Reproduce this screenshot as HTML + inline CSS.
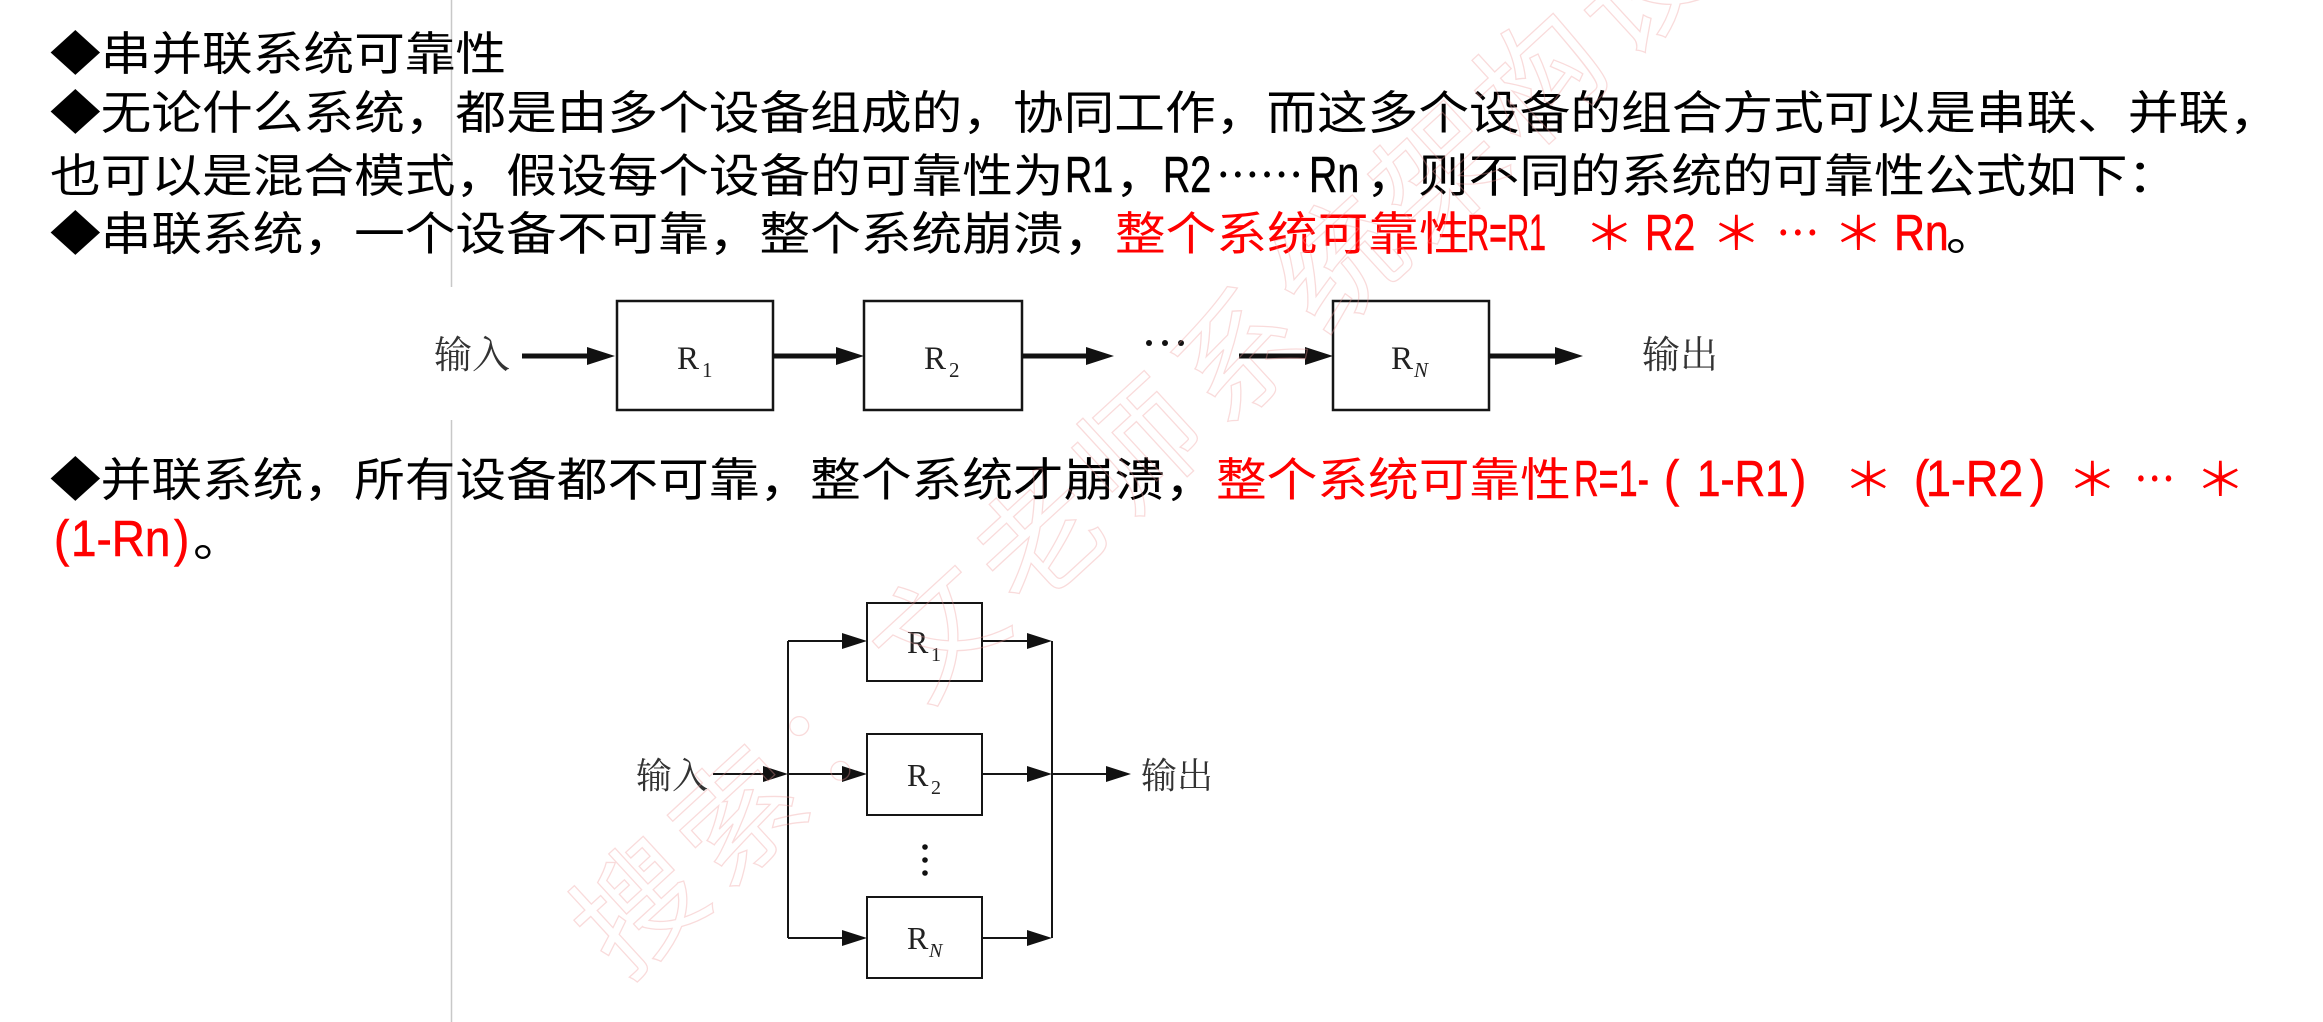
<!DOCTYPE html>
<html lang="zh-CN">
<head>
<meta charset="utf-8">
<style>
html,body{margin:0;padding:0;background:#fff;}
body{width:2323px;height:1022px;overflow:hidden;position:relative;}
svg{position:absolute;left:0;top:0;display:block;}
.c{font-family:"Liberation Sans","Noto Sans CJK SC",sans-serif;font-size:46px;fill:#000;}
.l{font-family:"Liberation Sans","Noto Sans CJK SC",sans-serif;font-size:51px;fill:#f00;stroke:#f00;stroke-width:0.6;}
.lb{fill:#000;stroke:#000;}
.red{fill:#f00;}
.dg{font-family:"Liberation Serif","Noto Serif CJK SC",serif;fill:#333;}
.rl{font-family:"Liberation Serif",serif;fill:#222;}
.wm{font-family:"Liberation Sans","Noto Sans CJK SC",sans-serif;}
</style>
</head>
<body>
<svg width="2323" height="1022" viewBox="0 0 2323 1022" xmlns="http://www.w3.org/2000/svg" overflow="hidden">
<defs>
  <clipPath id="pg"><rect x="0" y="0" width="2323" height="1022"/></clipPath>
</defs>
<rect x="0" y="0" width="2323" height="1022" fill="#fff"/>

<g clip-path="url(#pg)">
<!-- faint vertical guide line -->
<line x1="451.5" y1="0" x2="451.5" y2="287" stroke="#c8c8c8" stroke-width="1.5"/>
<line x1="451.5" y1="420" x2="451.5" y2="1022" stroke="#c8c8c8" stroke-width="1.5"/>

<!-- ===== Text lines ===== -->
<!-- L1 -->
<text class="c" transform="translate(50,70) scale(1.102,1)">◆串并联系统可靠性</text>
<!-- L2 -->
<text class="c" transform="translate(50,129) scale(1.102,1)">◆无论什么系统，都是由多个设备组成的，协同工作，而这多个设备的组合方式可以是串联、并联，</text>
<!-- L3 -->
<text class="c" transform="translate(50,192) scale(1.102,1)">也可以是混合模式，假设每个设备的可靠性为</text>
<text class="l lb" transform="translate(1065,192) scale(0.74,1)">R1</text>
<text class="c" transform="translate(1115,192) scale(1.102,1)">，</text>
<text class="l lb" transform="translate(1163,192) scale(0.74,1)">R2</text>
<text class="c" transform="translate(1216,192) scale(0.95,1)">⋯⋯</text>
<text class="l lb" transform="translate(1309,192) scale(0.77,1)">Rn</text>
<text class="c" transform="translate(1366,192) scale(1.102,1)">，</text>
<text class="c" transform="translate(1418,192) scale(1.102,1)">则不同的系统的可靠性公式如下：</text>
<!-- L4 -->
<text class="c" transform="translate(50,250) scale(1.102,1)">◆串联系统，一个设备不可靠，整个系统崩溃，</text>
<text class="c red" transform="translate(1115,250) scale(1.102,1)">整个系统可靠性</text>
<text class="l" transform="translate(1467,250) scale(0.6,1)">R=R1</text>
<text class="c red" transform="translate(1584,250) scale(1.102,1)">＊</text>
<text class="l" transform="translate(1645,250) scale(0.77,1)">R2</text>
<text class="c red" transform="translate(1711,250) scale(1.102,1)">＊</text>
<text class="c red" transform="translate(1776,250) scale(0.95,1)">⋯</text>
<text class="c red" transform="translate(1833,250) scale(1.102,1)">＊</text>
<text class="l" transform="translate(1894,250) scale(0.84,1)">Rn</text>
<text class="c" transform="translate(1946,250) scale(1.102,1)">。</text>

<!-- L5 -->
<text class="c" transform="translate(50,496) scale(1.102,1)">◆并联系统，所有设备都不可靠，整个系统才崩溃，</text>
<text class="c red" transform="translate(1216,496) scale(1.102,1)">整个系统可靠性</text>
<text class="l" transform="translate(1574,496) scale(0.67,1)">R=1-</text>
<text class="l" transform="translate(1664,496) scale(0.9,1)">(</text>
<text class="l" transform="translate(1697,496) scale(0.83,1)">1-R1</text>
<text class="l" transform="translate(1791,496) scale(0.9,1)">)</text>
<text class="c red" transform="translate(1843,496) scale(1.102,1)">＊</text>
<text class="l" transform="translate(1914,496) scale(0.9,1)">(</text>
<text class="l" transform="translate(1926,496) scale(0.88,1)">1-R2</text>
<text class="l" transform="translate(2030,496) scale(0.9,1)">)</text>
<text class="c red" transform="translate(2067,496) scale(1.102,1)">＊</text>
<text class="c red" transform="translate(2134,496) scale(0.9,1)">⋯</text>
<text class="c red" transform="translate(2195,496) scale(1.102,1)">＊</text>
<!-- L6 -->
<text class="l" transform="translate(54,556) scale(0.9,1)">(</text>
<text class="l" transform="translate(71,556) scale(0.9,1)">1-Rn</text>
<text class="l" transform="translate(174,556) scale(0.9,1)">)</text>
<text class="c" transform="translate(193,556) scale(1.102,1)">。</text>

<!-- ===== Series diagram ===== -->
<g stroke="#151515" fill="none" stroke-width="2.5">
  <rect x="617" y="301" width="156" height="109"/>
  <rect x="864" y="301" width="158" height="109"/>
  <rect x="1333" y="301" width="156" height="109"/>
</g>
<g stroke="#111" stroke-width="5">
  <line x1="522" y1="356" x2="590" y2="356"/>
  <line x1="773" y1="356" x2="840" y2="356"/>
  <line x1="1022" y1="356" x2="1090" y2="356"/>
  <line x1="1239" y1="356" x2="1310" y2="356"/>
  <line x1="1489" y1="356" x2="1560" y2="356"/>
</g>
<g fill="#111">
  <polygon points="587,347 615,356 587,365"/>
  <polygon points="836,347 864,356 836,365"/>
  <polygon points="1086,347 1114,356 1086,365"/>
  <polygon points="1305,347 1333,356 1305,365"/>
  <polygon points="1555,347 1583,356 1555,365"/>
  <circle cx="1149" cy="343" r="3"/>
  <circle cx="1165" cy="343" r="3"/>
  <circle cx="1181" cy="343" r="3"/>
</g>
<text class="dg" x="434" y="368" font-size="38">输入</text>
<text class="dg" x="1642" y="368" font-size="38">输出</text>
<text class="rl" x="677" y="369" font-size="33">R</text>
<text class="rl" x="702" y="377" font-size="21">1</text>
<text class="rl" x="924" y="369" font-size="33">R</text>
<text class="rl" x="949" y="377" font-size="21">2</text>
<text class="rl" x="1391" y="369" font-size="33">R</text>
<text class="rl" x="1414" y="377" font-size="21" font-style="italic">N</text>

<!-- ===== Parallel diagram ===== -->
<g stroke="#151515" fill="none" stroke-width="2">
  <rect x="867" y="603" width="115" height="78"/>
  <rect x="867" y="734" width="115" height="81"/>
  <rect x="867" y="897" width="115" height="81"/>
  <line x1="713" y1="774" x2="770" y2="774"/>
  <line x1="788" y1="641" x2="788" y2="938"/>
  <line x1="788" y1="641" x2="846" y2="641"/>
  <line x1="788" y1="774" x2="846" y2="774"/>
  <line x1="788" y1="938" x2="846" y2="938"/>
  <line x1="982" y1="641" x2="1031" y2="641"/>
  <line x1="982" y1="774" x2="1031" y2="774"/>
  <line x1="982" y1="938" x2="1031" y2="938"/>
  <line x1="1052" y1="641" x2="1052" y2="938"/>
  <line x1="1052" y1="774" x2="1111" y2="774"/>
</g>
<g fill="#111">
  <polygon points="763,766 788,774 763,782"/>
  <polygon points="842,633 867,641 842,649"/>
  <polygon points="842,766 867,774 842,782"/>
  <polygon points="842,930 867,938 842,946"/>
  <polygon points="1027,633 1052,641 1027,649"/>
  <polygon points="1027,766 1052,774 1027,782"/>
  <polygon points="1027,930 1052,938 1027,946"/>
  <polygon points="1106,766 1131,774 1106,782"/>
  <circle cx="925" cy="847" r="2.8"/>
  <circle cx="925" cy="860" r="2.8"/>
  <circle cx="925" cy="873" r="2.8"/>
</g>
<text class="dg" x="636" y="788" font-size="36">输入</text>
<text class="dg" x="1141" y="788" font-size="36">输出</text>
<text class="rl" x="907" y="653" font-size="32">R</text>
<text class="rl" x="931" y="661" font-size="20">1</text>
<text class="rl" x="907" y="786" font-size="32">R</text>
<text class="rl" x="931" y="794" font-size="20">2</text>
<text class="rl" x="907" y="949" font-size="32">R</text>
<text class="rl" x="929" y="957" font-size="20" font-style="italic">N</text>

<!-- ===== Watermark ===== -->
<g transform="translate(539,1000) rotate(-42.6)" opacity="0.35">
  <text class="wm" x="74" y="44" font-size="124" letter-spacing="12" fill="none" stroke="#f09a9a" stroke-width="1.3">搜索：文老师系统架构设</text>
</g>
</g>
</svg>
</body>
</html>
